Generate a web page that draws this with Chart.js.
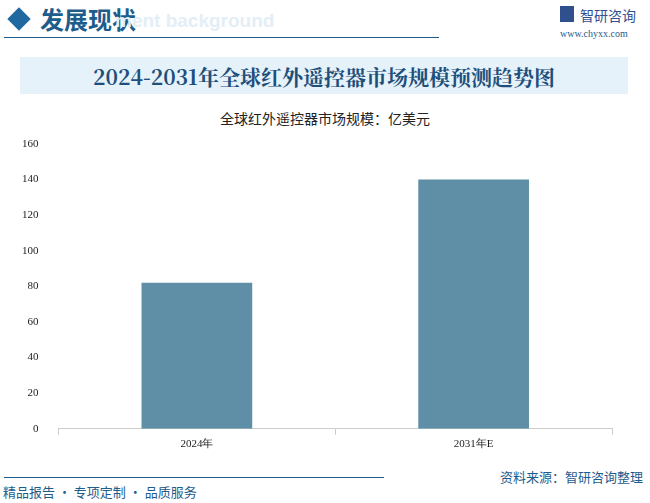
<!DOCTYPE html>
<html><head><meta charset="utf-8">
<script src="https://cdn.jsdelivr.net/npm/chart.js@4/dist/chart.umd.min.js"></script>
<style>
body{margin:0;width:650px;height:503px;background:#fff;position:relative;overflow:hidden;font-family:"Noto Sans CJK SC",sans-serif}
.abs{position:absolute}
#box{left:0;top:103px;width:650px;height:351px}
</style></head><body>
<div class="abs" style="left:8px;top:8px;width:22px;height:22px;background:#1e6aa0;transform:rotate(45deg) scale(.75)"></div>
<div class="abs" style="left:40px;top:1px;font-size:24px;color:#1e5c8c;font-weight:bold">发展现状</div>
<div class="abs" style="left:115px;top:10px;font-size:19px;color:#e3eef6;font-weight:bold;font-family:Arial">ment background</div>
<div class="abs" style="left:4px;top:37px;width:435px;height:1px;background:#1e5c8c"></div>
<div class="abs" style="left:560px;top:6px;width:14px;height:16px;background:#2f4f8f"></div>
<div class="abs" style="left:580px;top:5px;font-size:14px;color:#2f4f8f">智研咨询</div>
<div class="abs" style="left:560px;top:28px;font-size:10px;color:#1e5c8c;font-family:'Liberation Serif'">www.chyxx.com</div>
<div class="abs" style="left:20px;top:57px;width:608px;height:37px;background:#e6f2fa"></div>
<div class="abs" style="left:20px;top:61px;width:608px;text-align:center;font-size:21px;font-weight:bold;color:#1e4f7a;font-family:'Noto Serif CJK SC','Liberation Serif',serif">2024-2031年全球红外遥控器市场规模预测趋势图</div>
<div class="abs" style="left:0;top:108px;width:650px;text-align:center;font-size:14px;color:#222">全球红外遥控器市场规模：亿美元</div>
<div class="abs" id="box"><canvas id="c"></canvas></div>
<div class="abs" style="left:4px;top:477px;width:380px;height:1px;background:#1e5c8c"></div>
<div class="abs" style="left:3px;top:482px;font-size:13px;color:#1e5c8c">精品报告 · 专项定制 · 品质服务</div>
<div class="abs" style="left:500px;top:467px;font-size:13px;color:#1e5c8c">资料来源：智研咨询整理</div>
<script>
const categories = ['2024年', '2031年E'];
const values = [82, 140];
const yTicks = [0, 20, 40, 60, 80, 100, 120, 140, 160];
new Chart(document.getElementById('c'), {
  type: 'bar',
  data: { labels: categories, datasets: [{ data: values, backgroundColor: '#5e8fa6', barPercentage: 0.8, categoryPercentage: 0.5 }] },
  options: {
    responsive: true, maintainAspectRatio: false, animation: false,
    layout: { padding: { left: 10, right: 38, top: 41, bottom: 0 } },
    plugins: { legend: { display: false } },
    scales: {
      x: { grid: { display: true, drawOnChartArea: false, color: '#ccc', tickLength: 6 }, border: { color: '#ccc' },
           ticks: { color: '#222', font: { size: 11, family: 'Liberation Serif' } } },
      y: { min: 0, max: 160, afterBuildTicks: a => { a.ticks = yTicks.map(v => ({ value: v })); },
           grid: { display: false }, border: { display: false },
           ticks: { color: '#222', padding: 12, font: { size: 11, family: 'Liberation Serif' } } }
    }
  }
});
</script>
</body></html>
